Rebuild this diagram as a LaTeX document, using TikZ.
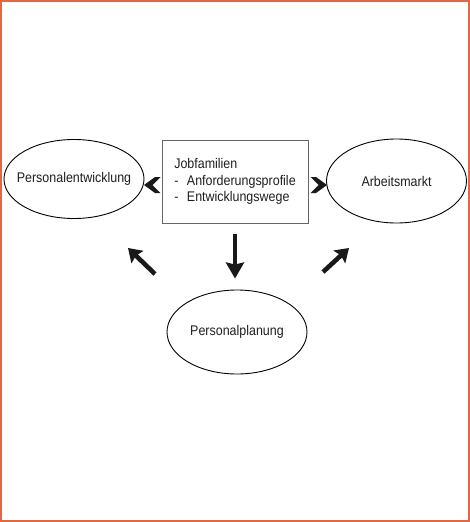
\documentclass[tikz,border=0pt]{standalone}
\usepackage{fontspec}
\setmainfont{Liberation Sans}[FakeStretch=0.89]
\usetikzlibrary{shapes.geometric,arrows.meta}
\definecolor{frameorange}{RGB}{226,103,70}
\definecolor{txt}{RGB}{30,30,30}
\begin{document}
\begin{tikzpicture}[x=1pt,y=-1pt,
  every node/.style={font=\fontsize{14}{16.5}\selectfont, text=txt},
  oval/.style={ellipse, draw=black, line width=0.9pt, inner sep=0pt},
  jobbox/.style={rectangle, draw=black!60, line width=1pt, minimum width=146pt, minimum height=83pt, align=left, inner sep=0pt},
  bigarrow/.style={line width=4.6pt, draw=black!90, -{Stealth[length=16pt,width=18pt,inset=2pt]}},
  diagarrow/.style={line width=4.6pt, draw=black!90, -{Stealth[length=13pt,width=17pt,inset=2pt]}},
  chev/.style={fill=black!90}]
\useasboundingbox (0,0) rectangle (470,522);
\draw[frameorange, line width=1.6pt] (0.8,0.8) rectangle (469.2,521.2);

\node[oval, minimum width=140pt, minimum height=79pt, label=center:Personalentwicklung] (pe) at (74,179) {};
\node[oval, minimum width=140pt, minimum height=84pt, label=center:Arbeitsmarkt] (am) at (396.5,181) {};
\node[oval, minimum width=140pt, minimum height=84pt, label=center:Personalplanung] (pp) at (237,332) {};
\node[jobbox] (box) at (235,181.5) {Jobfamilien\\-\hspace{8.5pt}Anforderungsprofile\\-\hspace{8.5pt}Entwicklungswege};

% chevrons between box and ellipses
\fill[chev] (144,185) -- (155,177) -- (160.5,177) -- (152.5,185) -- (160.5,193) -- (155,193) -- cycle;
\fill[chev] (327,185) -- (316,177) -- (310.5,177) -- (318.5,185) -- (310.5,193) -- (316,193) -- cycle;

% down arrow
\draw[bigarrow, shorten <=10pt, shorten >=11pt] (box.south) -- (box.south |- pp.north);

% diagonal arrows
\coordinate (nwS) at (155,274);
\coordinate (nwE) at (128,248);
\coordinate (neS) at (323,272);
\coordinate (neE) at (349,248);
\draw[diagarrow] (nwS) -- (nwE);
\draw[diagarrow] (neS) -- (neE);
\end{tikzpicture}
\end{document}
